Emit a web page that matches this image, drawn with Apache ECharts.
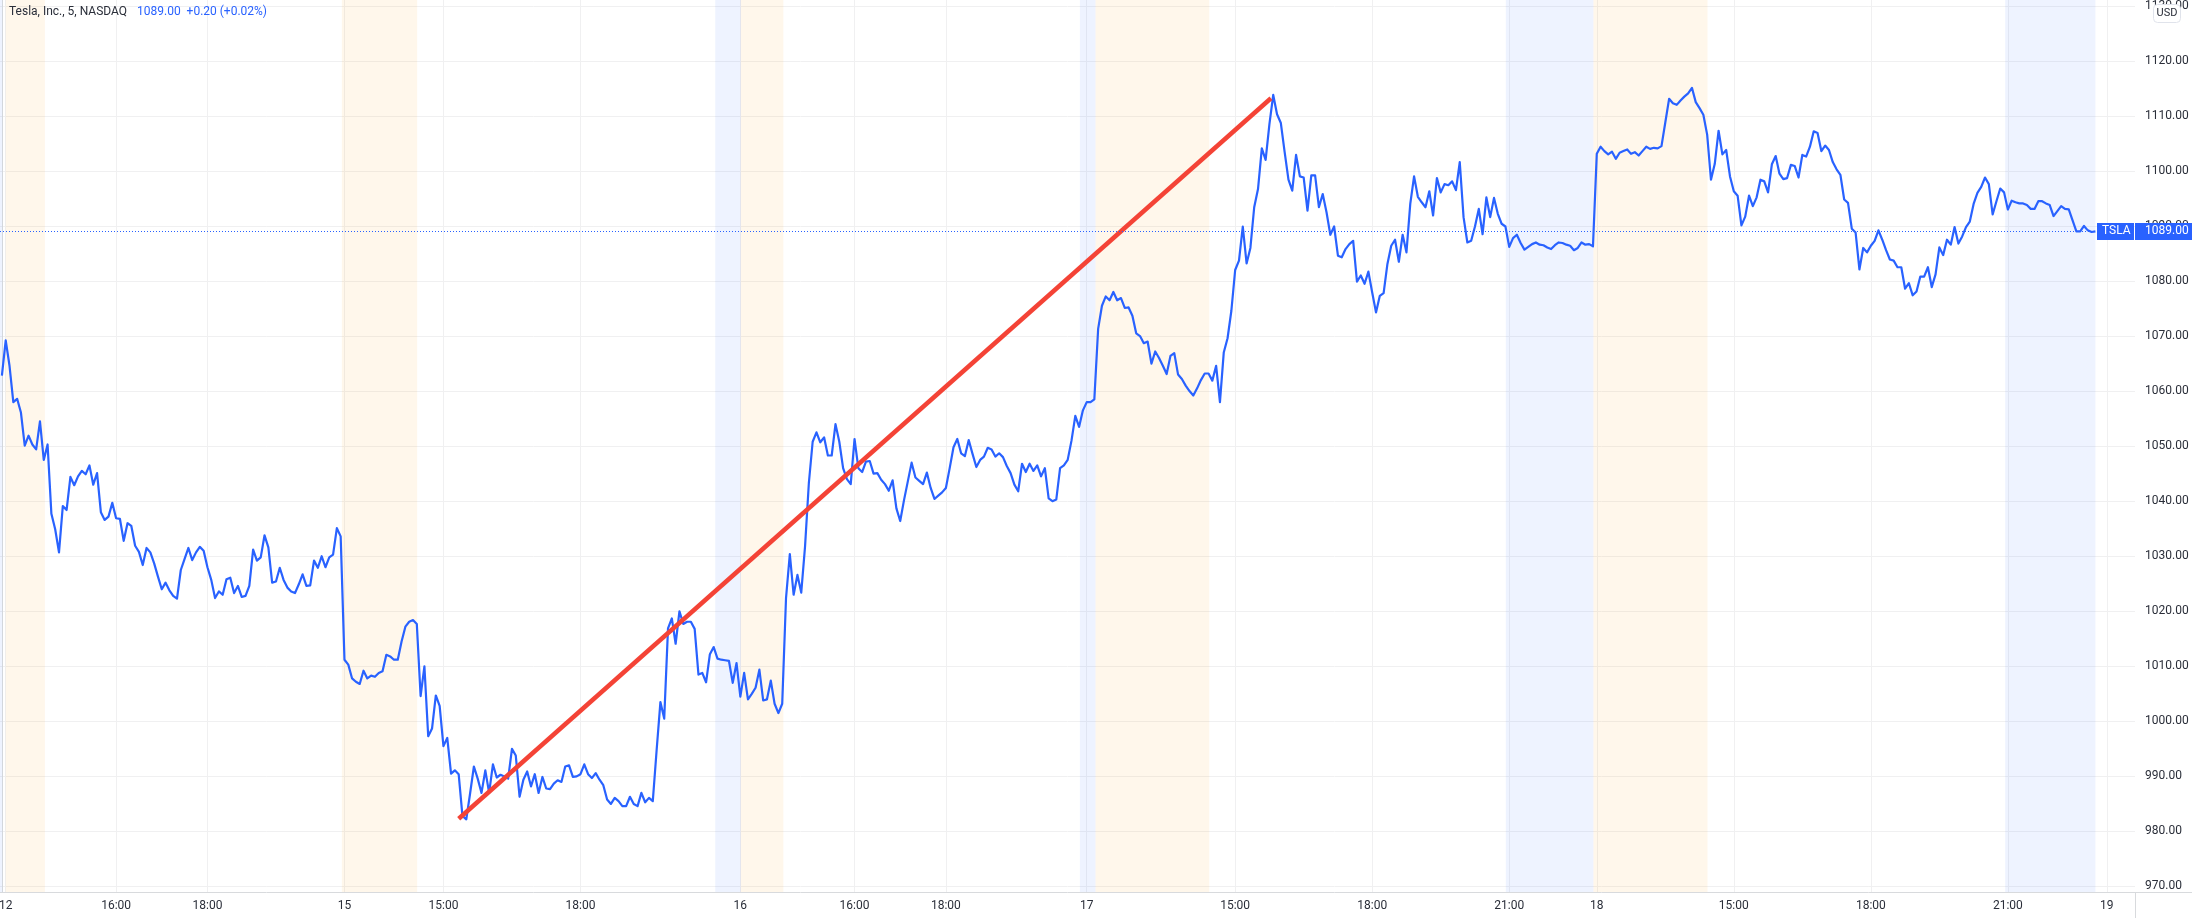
<!DOCTYPE html>
<html lang="en">
<head>
    <meta charset="UTF-8">
    <title>TSLA 5m</title>
    <style>
        body {
            margin: 0;
            background: #fff;
        }
        #chart {
            width: 100vw;
            height: 100vh;
        }
    </style>
</head>
<body>
    <div id="chart"></div>
    <script src="https://cdn.jsdelivr.net/npm/echarts@6/dist/echarts.min.js"></script>
    <script>
        // closes per session, one value every 5 min bar
        const close12 = [
            1062.8, 1069.2, 1064.6, 1058.0, 1058.6, 1056.1, 1050.1, 1051.9, 1050.3, 1049.4,
            1054.5, 1047.5, 1050.3, 1037.7, 1034.9, 1030.7, 1039.1, 1038.4, 1044.4, 1042.9,
            1044.5, 1045.5, 1044.9, 1046.5, 1043.0, 1045.1, 1038.0, 1036.6, 1037.2, 1039.7,
            1036.9, 1036.8, 1032.8, 1036.0, 1035.5, 1031.9, 1030.8, 1028.4, 1031.5, 1030.7,
            1028.7, 1026.3, 1024.0, 1025.2, 1023.8, 1022.8, 1022.3, 1027.5, 1029.5, 1031.5,
            1029.3, 1030.7, 1031.7, 1031.0, 1028.0, 1025.7, 1022.4, 1023.6, 1023.0, 1025.8,
            1026.1, 1023.3, 1024.6, 1022.6, 1022.8, 1024.6, 1031.2, 1029.2, 1029.8, 1033.8,
            1031.6, 1025.2, 1025.4, 1027.9, 1025.7, 1024.3, 1023.6, 1023.3, 1024.9, 1026.7,
            1024.6, 1024.7, 1029.2, 1027.9, 1030.0, 1028.0, 1029.8, 1030.3, 1035.1, 1033.6,
        ];
        const close15 = [
            1011.2, 1010.3, 1007.8, 1007.2, 1006.8, 1009.2, 1007.8, 1008.3, 1008.1, 1008.8,
            1009.1, 1012.1, 1011.8, 1011.2, 1011.2, 1014.5, 1017.2, 1018.1, 1018.4, 1017.7,
            1004.6, 1010.0, 997.3, 998.7, 1004.7, 1002.8, 995.5, 997.0, 990.5, 991.1,
            990.4, 982.8, 982.2, 986.9, 991.8, 989.6, 987.0, 991.1, 987.0, 992.2,
            989.8, 990.3, 990.0, 989.6, 995.0, 993.8, 986.3, 989.4, 990.9, 988.2,
            990.4, 987.0, 989.9, 987.8, 987.7, 988.7, 989.3, 989.0, 991.8, 992.0,
            989.9, 990.0, 990.4, 992.2, 990.4, 989.7, 990.6, 989.4, 988.4, 985.8,
            985.0, 986.1, 985.5, 984.6, 984.6, 986.3, 985.0, 984.6, 987.0, 985.3,
            986.1, 985.5, 994.7, 1003.5, 1000.5, 1016.9, 1018.7, 1014.1, 1020.0, 1017.7,
            1018.1, 1018.1, 1016.8, 1008.5, 1008.8, 1007.1, 1012.2, 1013.5, 1011.4, 1011.2,
            1011.1, 1011.0, 1007.0, 1010.6,
        ];
        const close16 = [
            1004.5, 1008.8, 1004.0, 1005.0, 1006.1, 1009.4,
            1003.8, 1004.0, 1007.4, 1003.2, 1001.5, 1003.2, 1022.4, 1030.4, 1023.0, 1026.6,
            1023.4, 1031.8, 1043.3, 1050.8, 1052.5, 1050.7, 1051.6, 1048.3, 1048.3, 1054.0,
            1050.8, 1046.0, 1044.0, 1043.1, 1051.3, 1046.0, 1045.3, 1047.2, 1047.3, 1045.0,
            1045.1, 1043.9, 1043.1, 1041.9, 1043.8, 1038.7, 1036.4, 1040.2, 1043.6, 1047.0,
            1044.3, 1043.7, 1043.1, 1045.2, 1042.4, 1040.4, 1041.0, 1041.6, 1042.4, 1046.0,
            1049.8, 1051.3, 1048.7, 1048.2, 1051.1, 1048.6, 1046.2, 1047.5, 1048.1, 1049.7,
            1049.4, 1048.1, 1048.7, 1048.0, 1046.4, 1045.1, 1043.0, 1041.8, 1046.8, 1045.3,
            1046.8, 1045.5, 1046.5, 1044.5, 1046.0, 1040.5, 1040.0, 1040.3, 1046.0, 1046.5,
            1047.5, 1051.0, 1055.5, 1053.5, 1056.5,
        ];
        const close17 = [
            1058.0, 1058.0, 1058.5, 1071.3, 1075.5,
            1077.2, 1076.5, 1078.0, 1076.5, 1076.9, 1075.1, 1075.2, 1073.7, 1070.5, 1070.0,
            1068.7, 1069.0, 1065.0, 1067.2, 1066.0, 1064.6, 1063.1, 1066.4, 1066.9, 1063.0,
            1062.2, 1061.0, 1060.0, 1059.2, 1060.5, 1062.0, 1063.2, 1063.2, 1061.9, 1064.6,
            1058.0, 1067.0, 1069.6, 1074.6, 1082.0, 1083.7, 1089.9, 1083.2, 1086.0, 1093.4,
            1096.7, 1104.1, 1102.0, 1108.5, 1113.8, 1110.3, 1108.7, 1103.4, 1098.4, 1096.4,
            1102.9, 1099.0, 1098.8, 1092.8, 1099.2, 1099.2, 1093.4, 1095.8, 1092.5, 1088.4,
            1089.9, 1084.6, 1084.3, 1085.8, 1086.7, 1087.3, 1079.9, 1081.0, 1079.5, 1081.7,
            1077.9, 1074.3, 1077.3, 1077.8, 1083.1, 1086.4, 1087.5, 1083.5, 1088.4, 1085.2,
            1094.0, 1099.0, 1095.3, 1094.3, 1093.4, 1096.3, 1091.9, 1098.7, 1096.1, 1097.6,
            1097.4, 1098.1, 1096.5, 1101.6, 1091.6, 1087.0, 1087.3, 1089.9, 1093.1, 1088.5,
            1095.2, 1091.6, 1095.1, 1092.2, 1090.4, 1089.9, 1086.2, 1087.8, 1088.4, 1086.9,
            1085.7, 1086.2, 1086.7, 1087.0, 1086.6, 1086.5, 1086.1, 1085.8, 1086.5, 1087.0,
            1086.9, 1086.6, 1086.4, 1085.6, 1086.0, 1087.0, 1086.6, 1086.7, 1086.3,
        ];
        const close18 = [
            1103.1, 1104.4, 1103.6, 1103.0, 1103.5, 1102.2, 1103.3, 1103.6, 1103.9, 1103.1,
            1103.4, 1102.8, 1103.6, 1104.4, 1104.0, 1104.2, 1104.1, 1104.5, 1108.8, 1113.1,
            1112.3, 1112.0, 1112.8, 1113.5, 1114.1, 1115.1, 1112.5, 1111.4, 1110.2, 1106.6,
            1098.4, 1101.3, 1107.3, 1103.0, 1103.8, 1099.0,
            1096.3, 1095.5, 1090.1, 1091.7, 1095.5, 1093.6, 1095.2, 1098.4, 1098.1, 1096.1,
            1101.2, 1102.7, 1099.5, 1098.5, 1098.7, 1101.1, 1100.9, 1098.8, 1102.9, 1102.6,
            1104.4, 1107.2, 1106.9, 1103.6, 1104.6, 1103.8, 1101.6, 1100.3, 1099.3, 1094.8,
            1094.2, 1089.5, 1088.8, 1082.1, 1086.0, 1085.2, 1086.4, 1087.3, 1089.2, 1087.5,
            1085.6, 1083.9, 1083.7, 1082.5, 1082.5, 1078.6, 1079.6, 1077.4, 1078.1, 1080.8,
            1080.8, 1082.5, 1078.9, 1081.2, 1086.1, 1084.7, 1087.5, 1086.6, 1089.8, 1086.8,
            1088.1, 1089.8, 1090.8, 1094.0, 1096.0, 1097.1, 1098.8, 1097.6, 1092.1, 1094.5,
            1096.8, 1096.1, 1093.0, 1094.6, 1094.3, 1094.1, 1094.1, 1093.8, 1093.1, 1093.1,
            1094.5, 1094.5, 1094.1, 1093.8, 1091.8, 1092.7, 1093.6, 1093.1, 1093.0, 1091.0,
            1089.0, 1089.0, 1090.0, 1089.2, 1088.9, 1089.0,
        ];

        // x axis is bar number, the session gaps are skipped like on the original
        const timeTicks = [1, 30, 54, 90, 116, 152, 194, 224, 248, 285, 324, 360, 396, 419, 455, 491, 527, 553];
        const timeLabels = ['12', '16:00', '18:00', '15', '15:00', '18:00', '16', '16:00', '18:00', '17', '15:00', '18:00', '21:00', '18', '15:00', '18:00', '21:00', '19'];
        const priceTicks = [970, 980, 990, 1000, 1010, 1020, 1030, 1040, 1050, 1060, 1070, 1080, 1090, 1100, 1110, 1120, 1130];

        const preMarket = [[1, 11.3], [89.3, 109.1], [194.1, 205.3], [287.3, 317.2], [418.1, 448.1]];
        const postMarket = [[-0.5, 0.1], [187.4, 194.1], [283.2, 287.3], [395.1, 418.1], [526.3, 550]];
        const trendLine = [[120, 982.3], [333.4, 1113.2]];
        const lastPrice = 1089;

        const closes = [...close12, ...close15, ...close16, ...close17, ...close18];
        const font = 'Roboto';
        const textColor = '#2a2e39';
        const gridColor = '#f0f0f1';
        const borderColor = '#d8dadd';
        const blue = '#2962ff';

        const toAreas = (ranges, color) => ranges.map(r => [
            { xAxis: r[0], itemStyle: { color } },
            { xAxis: r[1] },
        ]);

        const chart = echarts.init(document.getElementById('chart'));
        chart.setOption({
            animation: false,
            title: [
                {
                    text: 'Tesla, Inc., 5, NASDAQ',
                    left: 9, top: 6, padding: 0,
                    textStyle: { fontFamily: font, fontSize: 12, fontWeight: 'normal', color: textColor },
                },
                {
                    text: '1089.00  +0.20 (+0.02%)',
                    left: 137, top: 6, padding: 0,
                    textStyle: { fontFamily: font, fontSize: 12, fontWeight: 'normal', color: blue },
                },
            ],
            // v6 shrinks the grid to keep edge labels inside unless this is off
            grid: { left: 0, right: 57, top: 0, bottom: 26, outerBoundsMode: 'none' },
            xAxis: {
                type: 'value',
                min: -0.5,
                max: 560.4,
                axisLine: { show: true, lineStyle: { color: borderColor } },
                axisTick: { show: false, customValues: timeTicks },
                splitLine: { show: true, lineStyle: { color: gridColor } },
                axisLabel: {
                    customValues: timeTicks,
                    margin: 8,
                    hideOverlap: false,
                    showMinLabel: true,
                    showMaxLabel: true,
                    fontFamily: font,
                    fontSize: 12,
                    color: textColor,
                    formatter: v => timeLabels[timeTicks.indexOf(v)],
                },
            },
            yAxis: {
                type: 'value',
                position: 'right',
                min: 969,
                max: 1131.05,
                axisLine: { show: true, lineStyle: { color: borderColor } },
                axisTick: { show: false, customValues: priceTicks },
                splitLine: { show: true, lineStyle: { color: gridColor } },
                axisLabel: {
                    customValues: priceTicks,
                    margin: 10,
                    fontFamily: font,
                    fontSize: 12,
                    color: textColor,
                    formatter: v => v.toFixed(2),
                },
            },
            series: [
                {
                    type: 'line',
                    data: closes.map((v, i) => [i, v]),
                    symbol: 'none',
                    z: 2,
                    lineStyle: { color: blue, width: 2.2, join: 'round' },
                    markArea: {
                        silent: true,
                        data: [
                            ...toAreas(preMarket, 'rgba(255, 152, 0, 0.08)'),
                            ...toAreas(postMarket, 'rgba(41, 98, 255, 0.08)'),
                        ],
                    },
                    markLine: {
                        silent: true,
                        symbol: 'none',
                        lineStyle: { color: blue, type: [1, 2], width: 1 },
                        label: {
                            position: 'end',
                            distance: 0,
                            fontFamily: font,
                            fontSize: 12,
                            color: '#fff',
                            backgroundColor: blue,
                            height: 17,
                            lineHeight: 17,
                        },
                        data: [
                            { yAxis: lastPrice, label: { formatter: '1089.00', width: 47, padding: [0, 0, 0, 10], align: 'left' } },
                            { yAxis: lastPrice, label: { formatter: 'TSLA', width: 32, padding: [0, 0, 0, 5], align: 'left', offset: [-38, 0] } },
                        ],
                    },
                },
                {
                    type: 'line',
                    data: trendLine,
                    symbol: 'none',
                    z: 3,
                    lineStyle: { color: '#f44336', width: 4.5 },
                },
            ],
            graphic: [
                // axis borders run on through the corner below the price scale
                { type: 'line', silent: true, shape: { x1: 2135, y1: 892.5, x2: 2192, y2: 892.5 }, style: { stroke: borderColor } },
                { type: 'line', silent: true, shape: { x1: 2135.5, y1: 892, x2: 2135.5, y2: 918 }, style: { stroke: borderColor } },
                {
                    type: 'rect',
                    silent: true,
                    z: 10,
                    shape: { x: 2153.5, y: 4.5, width: 27, height: 18, r: 4 },
                    style: { fill: '#fff', stroke: '#e0e3eb' },
                },
                {
                    type: 'text',
                    silent: true,
                    z: 11,
                    x: 2167,
                    y: 13.5,
                    style: {
                        text: 'USD',
                        font: '11px ' + font,
                        fill: textColor,
                        align: 'center',
                        verticalAlign: 'middle',
                    },
                },
            ],
        });
    </script>
</body>
</html>
